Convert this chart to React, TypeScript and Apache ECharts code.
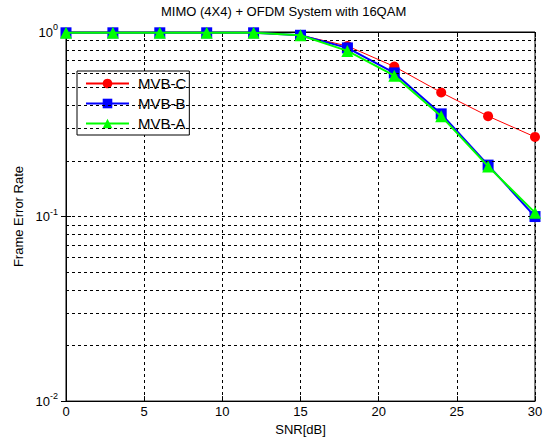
import React, { useEffect, useRef } from "react";
import * as echarts from "echarts";

const snr = [0, 3, 6, 9, 12, 15, 18, 21, 24, 27, 30];
const mvbC = [0.99, 0.99, 0.99, 0.99, 0.99, 0.96, 0.84, 0.65, 0.47, 0.35, 0.27];
const mvbB = [0.99, 0.99, 0.99, 0.99, 0.99, 0.96, 0.82, 0.6, 0.36, 0.19, 0.1];
const mvbA = [0.99, 0.99, 0.99, 0.99, 0.99, 0.96, 0.79, 0.58, 0.35, 0.187, 0.105];
const yGridValues = [
  0.02, 0.03, 0.04, 0.05, 0.06, 0.07, 0.08, 0.09, 0.1,
  0.2, 0.3, 0.4, 0.5, 0.6, 0.7, 0.8, 0.9,
];
const yTickLabels: Record<string, string> = { "1": "0", "0.1": "-1", "0.01": "-2" };

const FONT = "Liberation Sans, Arial, Helvetica, sans-serif";

export default function App() {
  const ref = useRef<HTMLDivElement>(null);
  useEffect(() => {
    if (!ref.current) return;
    const chart = echarts.init(ref.current, undefined, { renderer: "svg" });
    const pair = (ys: number[]) => snr.map((x, i) => [x, ys[i]]);
    chart.setOption({
      animation: false,
      backgroundColor: "#fff",
      textStyle: { fontFamily: FONT },
      title: {
        text: "MIMO (4X4) + OFDM System with 16QAM",
        left: 156,
        top: 0,
        textStyle: { fontSize: 13, fontWeight: "normal", color: "#000", fontFamily: FONT },
      },
      legend: {
        data: ["MVB-C", "MVB-B", "MVB-A"],
        orient: "vertical",
        align: "left",
        left: 77,
        top: 71,
        backgroundColor: "#fff",
        borderColor: "#000",
        borderWidth: 1,
        borderRadius: 0,
        padding: [5, 3, 4, 8],
        itemGap: 5,
        itemWidth: 43,
        itemHeight: 12,
        textStyle: { fontSize: 15, color: "#000", fontFamily: FONT, padding: [0, 0, 0, 4] },
      },
      grid: {
        left: 66,
        right: 14,
        top: 32,
        bottom: 39,
        show: true,
        borderColor: "#000",
        borderWidth: 1,
        backgroundColor: "#fff",
      },
      xAxis: [
        {
          type: "value",
          min: 0,
          max: 30,
          interval: 5,
          name: "SNR[dB]",
          nameLocation: "middle",
          nameGap: 19,
          nameTextStyle: { fontSize: 13, color: "#000", fontFamily: FONT },
          axisLine: { show: true, lineStyle: { color: "#000" } },
          axisTick: { show: true, inside: true, length: 5, lineStyle: { color: "#000" } },
          axisLabel: { fontSize: 13, color: "#000", margin: 4, fontFamily: FONT },
          splitLine: { show: true, lineStyle: { color: "#000", type: [3, 3], width: 1 } },
        },
        {
          type: "value",
          position: "top",
          min: 0,
          max: 30,
          interval: 5,
          axisLine: { show: true, lineStyle: { color: "#000" } },
          axisTick: { show: true, inside: true, length: 5, lineStyle: { color: "#000" } },
          axisLabel: { show: false },
          splitLine: { show: false },
        },
      ],
      yAxis: [
        {
          type: "log",
          logBase: 10,
          min: 0.01,
          max: 1,
          name: "Frame Error Rate",
          nameLocation: "middle",
          nameGap: 36,
          nameTextStyle: { fontSize: 13, color: "#000", fontFamily: FONT },
          axisLine: { show: true, lineStyle: { color: "#000" } },
          axisTick: { show: true, inside: true, length: 5, lineStyle: { color: "#000" } },
          splitLine: { show: false },
          axisLabel: {
            margin: 8,
            formatter: (v: number) => {
              const key = String(Math.round(v * 100) / 100);
              const e = yTickLabels[key] ?? "";
              return `{b|10}{s|${e}}`;
            },
            rich: {
              b: { fontSize: 13, color: "#000", fontFamily: FONT },
              s: { fontSize: 9, color: "#000", fontFamily: FONT, padding: [0, 0, 10, 0] },
            },
          },
        },
        {
          type: "log",
          logBase: 10,
          min: 0.01,
          max: 1,
          position: "right",
          axisLine: { show: true, lineStyle: { color: "#000" } },
          axisTick: { show: true, inside: true, length: 5, lineStyle: { color: "#000" } },
          axisLabel: { show: false },
          splitLine: { show: false },
        },
      ],
      series: [
        {
          name: "grid",
          type: "line",
          data: [],
          z: 1,
          silent: true,
          markLine: {
            silent: true,
            symbol: "none",
            label: { show: false },
            lineStyle: { color: "#000", type: [3, 3], width: 1 },
            data: yGridValues.map((v) => ({ yAxis: v })),
          },
        },
        {
          name: "MVB-C",
          type: "line",
          data: pair(mvbC),
          z: 3,
          color: "#ff0000",
          lineStyle: { width: 1, color: "#ff0000" },
          symbol: "circle",
          symbolSize: 10,
          itemStyle: { color: "#ff0000" },
        },
        {
          name: "MVB-B",
          type: "line",
          data: pair(mvbB),
          z: 4,
          color: "#0000ff",
          lineStyle: { width: 2, color: "#0000ff" },
          symbol: "rect",
          symbolSize: 11,
          itemStyle: { color: "#0000ff" },
        },
        {
          name: "MVB-A",
          type: "line",
          data: pair(mvbA),
          z: 5,
          color: "#00ff00",
          lineStyle: { width: 2, color: "#00ff00" },
          symbol: "triangle",
          symbolSize: 12,
          itemStyle: { color: "#00ff00" },
        },
      ],
    });
    return () => chart.dispose();
  }, []);
  return <div ref={ref} style={{ width: 549, height: 441, position: "absolute", left: 0, top: 0 }} />;
}
